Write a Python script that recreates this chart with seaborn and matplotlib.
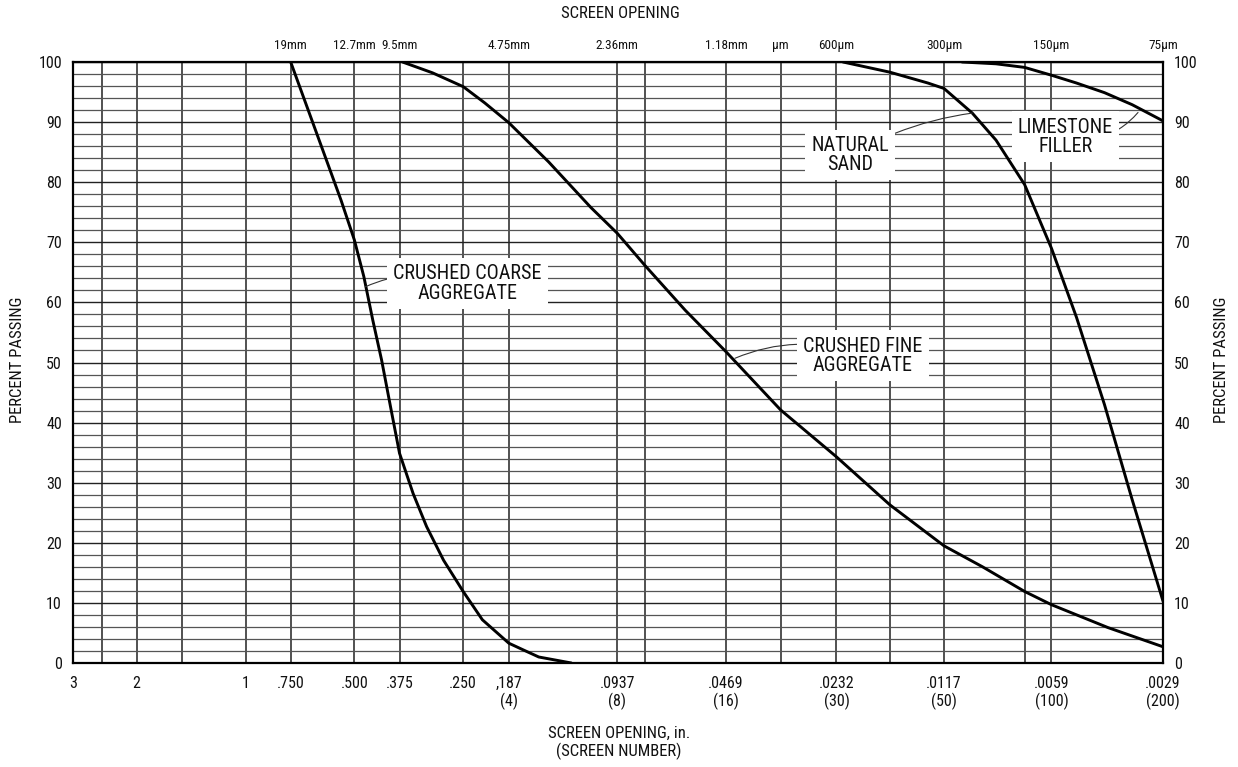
import matplotlib
matplotlib.use("Agg")
import matplotlib.pyplot as plt
import numpy as np
import pandas as pd
import seaborn as sns
from matplotlib import font_manager, ticker

# ---------------- data ----------------
coarse_size = [0.75, 0.5442, 0.5, 0.4707, 0.4448, 0.4203, 0.3970, 0.375,
               0.3439, 0.3156, 0.2833, 0.25, 0.2213, 0.187, 0.1708, 0.1545,
               0.1255]
coarse_pass = [100, 77, 70.4, 64.3, 57.1, 50.4, 42.6, 34.9, 28.2, 22.7, 17.1,
               11.9, 7.2, 3.3, 2.2, 1.0, 0]

fine_size = [0.368, 0.304, 0.25, 0.218, 0.187, 0.1452, 0.1109, 0.0937, 0.0787,
             0.0608, 0.0469, 0.0331, 0.0232, 0.0165, 0.0117, 0.00915, 0.0070,
             0.0059, 0.00412, 0.0029]
fine_pass = [100, 98.2, 95.9, 93.2, 89.9, 83.4, 75.8, 71.5, 66.2, 58.7, 51.8,
             42.1, 34.3, 26.3, 19.5, 16.0, 11.9, 9.7, 5.9, 2.7]

sand_size = [0.02226, 0.0165, 0.01296, 0.0117, 0.00977, 0.0084, 0.0070,
             0.0059, 0.00503, 0.00421, 0.00353, 0.0029]
sand_pass = [100, 98.3, 96.5, 95.6, 91.5, 87, 79.6, 69, 57.5, 43, 27.2, 10.3]

lime_size = [0.01043, 0.0084, 0.0070, 0.0059, 0.00503, 0.00421, 0.00353, 0.0029]
lime_pass = [100, 99.7, 99.1, 97.8, 96.5, 94.9, 92.9, 90.2]

# sieve lines of the chart (inches)
grid_sizes = [2.5, 2, 1.5, 1, 0.75, 0.5, 0.375, 0.25, 0.187, 0.0937, 0.0787,
              0.0469, 0.0331, 0.0232, 0.0165, 0.0117, 0.0070, 0.0059]

bottom_ticks = [3, 2, 1, 0.75, 0.5, 0.375, 0.25, 0.187, 0.0937, 0.0469,
                0.0232, 0.0117, 0.0059, 0.0029]
bottom_labels = ["3", "2", "1", ".750", ".500", ".375", ".250", ",187\n(4)",
                 ".0937\n(8)", ".0469\n(16)", ".0232\n(30)", ".0117\n(50)",
                 ".0059\n(100)", ".0029\n(200)"]

top_ticks = [0.75, 0.5, 0.375, 0.187, 0.0937, 0.0469, 0.0331, 0.0232,
             0.0117, 0.0059, 0.0029]
top_labels = ["19mm", "12.7mm", "9.5mm", "4.75mm", "2.36mm", "1.18mm",
              "\u00b5m", "600\u00b5m", "300\u00b5m", "150\u00b5m", "75\u00b5m"]

y_ticks = list(range(0, 101, 10))
y_minor = list(range(0, 101, 2))

# ---------------- style ----------------
sns.set_theme(style="white")
names = {f.name for f in font_manager.fontManager.ttflist}
fam = "DejaVu Sans"
for cand in ["Roboto Condensed", "Liberation Sans Narrow", "Roboto"]:
    if cand in names:
        fam = cand
        break
plt.rcParams["font.family"] = [fam] + (["DejaVu Sans"] if fam != "DejaVu Sans" else [])
plt.rcParams["text.color"] = "#111111"

fig = plt.figure(figsize=(12.38, 7.67), dpi=100)
ax = fig.add_axes([73 / 1238, 1 - 663 / 767, (1163 - 73) / 1238, (663 - 62) / 767])

df = pd.concat([
    pd.DataFrame({"size": coarse_size, "passing": coarse_pass, "material": "coarse"}),
    pd.DataFrame({"size": fine_size, "passing": fine_pass, "material": "fine"}),
    pd.DataFrame({"size": sand_size, "passing": sand_pass, "material": "sand"}),
    pd.DataFrame({"size": lime_size, "passing": lime_pass, "material": "lime"}),
])

sns.lineplot(data=df, x="size", y="passing", hue="material",
             palette={"coarse": "black", "fine": "black", "sand": "black", "lime": "black"},
             estimator=None, linewidth=2.1, legend=False, ax=ax, zorder=5)

ax.set_xscale("log")
ax.set_xlim(3, 0.0029)
ax.set_ylim(0, 100)

# grid
ax.xaxis.remove_overlapping_locs = False
ax.xaxis.set_major_locator(ticker.FixedLocator(bottom_ticks))
ax.xaxis.set_major_formatter(ticker.FixedFormatter(bottom_labels))
ax.xaxis.set_minor_locator(ticker.FixedLocator(grid_sizes))
ax.xaxis.set_minor_formatter(ticker.NullFormatter())
ax.yaxis.set_major_locator(ticker.FixedLocator(y_ticks))
ax.yaxis.set_minor_locator(ticker.FixedLocator(y_minor))
ax.grid(which="minor", axis="x", color="#222222", linewidth=1.1)
ax.grid(which="minor", axis="y", color="#555555", linewidth=0.9)
ax.grid(which="major", axis="y", color="#222222", linewidth=1.0)
ax.set_axisbelow(True)

for s in ax.spines.values():
    s.set_color("black")
    s.set_linewidth(1.6)

ax.tick_params(axis="x", which="both", length=0, pad=9, labelsize=11.5, colors="#111111")
ax.tick_params(axis="y", which="both", length=0, labelsize=11.5, colors="#111111",
               labelleft=True, labelright=True, pad=8)
ax.set_xlabel("")
ax.set_ylabel("")

sec = ax.secondary_xaxis("top")
sec.xaxis.set_major_locator(ticker.FixedLocator(top_ticks))
sec.xaxis.set_major_formatter(ticker.FixedFormatter(top_labels))
sec.xaxis.set_minor_locator(ticker.NullLocator())
sec.tick_params(length=0, pad=7, labelsize=9.5, colors="#111111")
sec.spines["top"].set_visible(False)

# axis titles
fig.text(620 / 1238, 1 - 14 / 767, "SCREEN OPENING", ha="center", va="center", fontsize=12)
fig.text(619 / 1238, 1 - 743 / 767, "SCREEN OPENING, in.\n(SCREEN NUMBER)",
         ha="center", va="center", fontsize=12, linespacing=1.2)
fig.text(18 / 1238, 1 - 360 / 767, "PERCENT PASSING", rotation=90,
         ha="center", va="center", fontsize=12)
fig.text(1222 / 1238, 1 - 360 / 767, "PERCENT PASSING", rotation=90,
         ha="center", va="center", fontsize=12)

# callouts
box = dict(boxstyle="square,pad=0.3", fc="white", ec="none")
arrow = dict(arrowstyle="-", color="#333333", lw=0.8, connectionstyle="arc3,rad=0.2",
             shrinkA=0, shrinkB=0)
ax.annotate("CRUSHED COARSE\nAGGREGATE", xy=(0.4662, 62.6), xytext=(0.243, 63.2),
            ha="center", va="center", fontsize=14.5, linespacing=1.05, bbox=box,
            arrowprops=arrow, zorder=6)
ax.annotate("CRUSHED FINE\nAGGREGATE", xy=(0.0443, 50.7), xytext=(0.0196, 51.1),
            ha="center", va="center", fontsize=14.5, linespacing=1.05, bbox=box,
            arrowprops=arrow, zorder=6)
ax.annotate("NATURAL\nSAND", xy=(0.00977, 91.5), xytext=(0.02124, 84.5),
            ha="center", va="center", fontsize=14.5, linespacing=1.0, bbox=box,
            arrowprops=dict(arrow, connectionstyle="arc3,rad=-0.1"), zorder=6)
ax.annotate("LIMESTONE\nFILLER", xy=(0.0034, 91.6), xytext=(0.0054, 87.6),
            ha="center", va="center", fontsize=14.5, linespacing=1.0, bbox=box,
            arrowprops=dict(arrow, connectionstyle="arc3,rad=0.3"), zorder=6)

fig.savefig("out.png", dpi=100, facecolor="white")
